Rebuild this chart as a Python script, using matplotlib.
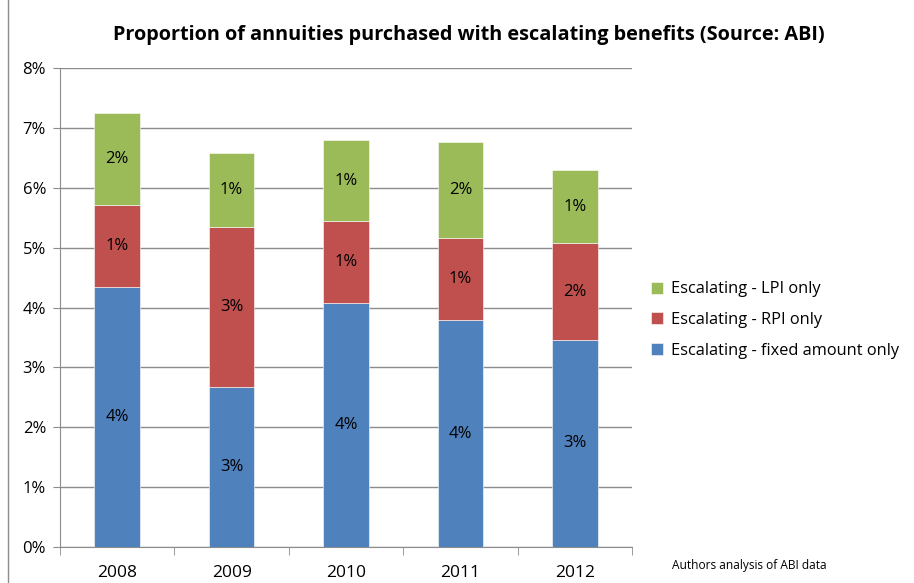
import matplotlib
matplotlib.use("Agg")
import matplotlib.pyplot as plt
from matplotlib.lines import Line2D
import numpy as np

# Chart data (percentages)
years = ["2008", "2009", "2010", "2011", "2012"]
fixed_only = [4.35, 2.67, 4.08, 3.79, 3.46]
rpi_only = [1.36, 2.68, 1.37, 1.37, 1.61]
lpi_only = [1.54, 1.23, 1.34, 1.60, 1.22]

series_names = ["Escalating - fixed amount only", "Escalating - RPI only", "Escalating - LPI only"]
colors = ["#4F81BD", "#C0504D", "#9BBB59"]

plt.rcParams["font.family"] = ["Open Sans", "DejaVu Sans"]

fig = plt.figure(figsize=(9.14, 5.83), dpi=100)
ax = fig.add_axes([60 / 914, 1 - 547 / 583, 572 / 914, 479 / 583])

x = np.arange(len(years))
bottom = np.zeros(len(years))
bars = []
for vals, name, col in zip([fixed_only, rpi_only, lpi_only], series_names, colors):
    b = ax.bar(x, vals, width=0.4, bottom=bottom, color=col, label=name,
               edgecolor="white", linewidth=0.4, zorder=3)
    for xi, v, bt in zip(x, vals, bottom):
        ax.text(xi, bt + v / 2, f"{round(v):.0f}%", ha="center", va="center",
                fontsize=12, color="black", zorder=4)
    bars.append(b)
    bottom = bottom + np.array(vals)

# Axes styling
ax.set_xlim(-0.5, len(years) - 0.5)
ax.set_ylim(0, 8)
ax.set_yticks(range(0, 9))
ax.set_yticklabels([f"{i}%" for i in range(0, 9)], fontsize=12)
ax.yaxis.grid(True, color="#8c8c8c", linewidth=1, zorder=0)
ax.set_axisbelow(True)

ax.set_xticks(x)
ax.set_xticklabels(years, fontsize=12.5)
ax.set_xticks(np.arange(-0.5, len(years)), minor=True)
ax.tick_params(axis="x", which="major", length=0, pad=13)
ax.tick_params(axis="x", which="minor", length=6, color="#8c8c8c", direction="out")
ax.tick_params(axis="y", length=5, color="#8c8c8c", direction="out", pad=5)

for side in ["top", "right"]:
    ax.spines[side].set_visible(False)
ax.spines["left"].set_color("#8c8c8c")
ax.spines["bottom"].set_color("#8c8c8c")

# Title
fig.text(469 / 914, 1 - 35 / 583, "Proportion of annuities purchased with escalating benefits (Source: ABI)",
         ha="center", va="center", fontsize=14.3, fontweight="bold")

# Legend (reverse order: LPI at top)
handles = bars[::-1]
labels = series_names[::-1]
fig.legend(handles, labels, loc="center left", bbox_to_anchor=(651 / 914, 1 - 320 / 583),
           frameon=False, fontsize=11.8, handlelength=0.75, handleheight=0.75,
           labelspacing=0.9, handletextpad=0.45, borderpad=0, borderaxespad=0)

# Source note
fig.text(672 / 914, 1 - 566 / 583, "Authors analysis of ABI data", fontsize=8.6, va="center")

# Outer chart border on the left
fig.add_artist(Line2D([8 / 914, 8 / 914], [0, 1], color="#8c8c8c", linewidth=1))

fig.savefig("out.png", dpi=100)
plt.close(fig)
